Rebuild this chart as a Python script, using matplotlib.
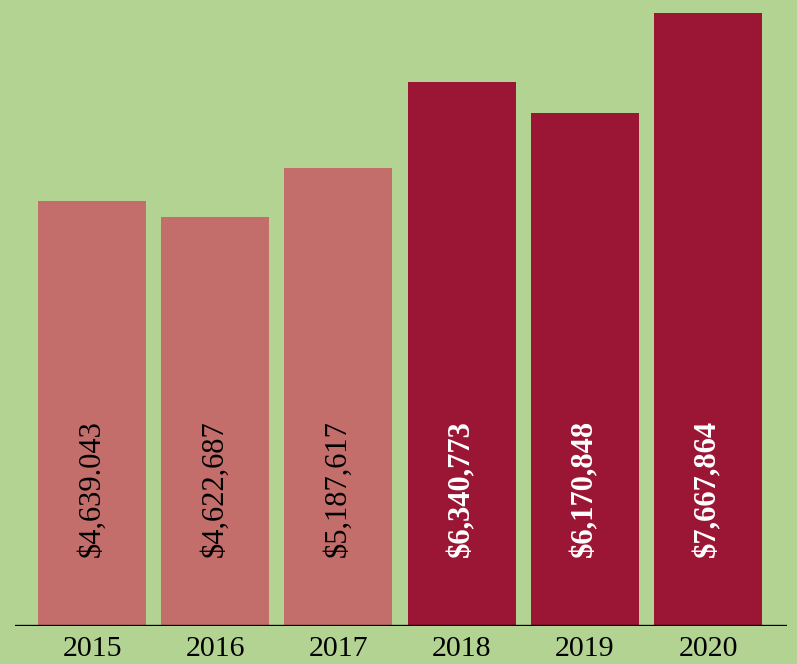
import matplotlib.pyplot as plt
import numpy as np

years = ['2015', '2016', '2017', '2018', '2019', '2020']
labels = ['$4,639.043', '$4,622,687', '$5,187,617', '$6,340,773', '$6,170,848', '$7,667,864']
# bar heights as drawn in the picture (relative units)
heights = [425, 409, 458, 544, 513, 613]
bar_colors = ['#c46e6c', '#c46e6c', '#c46e6c', '#9b1535', '#9b1535', '#9b1535']
text_colors = ['black', 'black', 'black', 'white', 'white', 'white']
text_weights = ['normal', 'normal', 'normal', 'bold', 'bold', 'bold']

bg = '#b3d393'
plt.rcParams['font.family'] = ['Liberation Serif', 'DejaVu Serif']

fig = plt.figure(figsize=(7.97, 6.64), dpi=100, facecolor=bg)
ax = fig.add_axes([15/797, 38/664, 772/797, 626/664])
ax.set_facecolor(bg)

x = np.arange(len(years))
ax.bar(x, heights, width=0.877, color=bar_colors)
ax.axhline(0, color='black', lw=2.4, zorder=3)

for xi, lab, tc, tw in zip(x, labels, text_colors, text_weights):
    ax.text(xi, 69, lab, rotation=90, ha='center', va='bottom',
            fontsize=22, color=tc, fontweight=tw)

ax.set_xlim(-0.625, 5.641)
ax.set_ylim(0, 626)
ax.set_xticks(x)
ax.set_xticklabels(years, fontsize=21.5)
ax.tick_params(axis='x', length=0, pad=7)
ax.set_yticks([])
for s in ax.spines.values():
    s.set_visible(False)

plt.savefig('out.png', dpi=100, facecolor=bg)
